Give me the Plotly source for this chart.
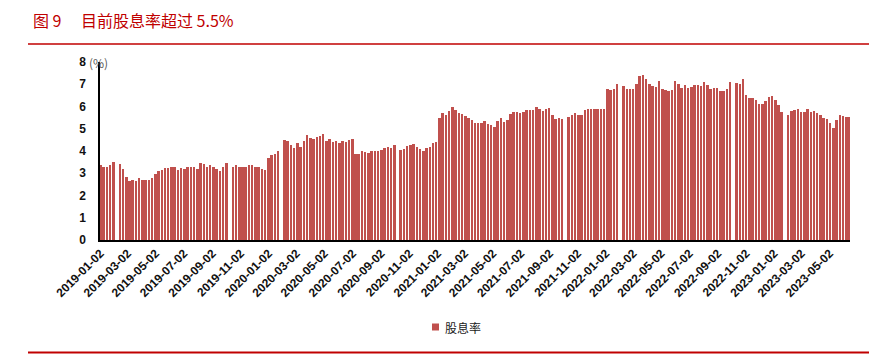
import pandas as pd
import plotly.graph_objects as go

# ---- data: weekly dividend-yield level (%) ----
# each list starts at the Monday given; None = market closed that week
start_2019 = "2018-12-31"
div_2019 = [3.38, 3.28, 3.3, 3.35, 3.5, None, 3.4, 3.2, 2.85, 2.65,
            2.68, 2.63, 2.8, 2.68, 2.7, 2.68, 2.78, 2.97, 3.1, 3.15,
            3.22, 3.22, 3.28, 3.26, 3.15, 3.25, 3.2, 3.28, 3.27, 3.3,
            3.18, 3.48, 3.4, 3.3, 3.36, 3.28, 3.18, 3.12, 3.3, 3.45,
            None, 3.3, 3.35, 3.3, 3.3, 3.3, 3.35, 3.35, 3.3, 3.3,
            3.2, 3.15]
start_2020 = "2019-12-30"
div_2020 = [3.7, 3.83, 3.87, 4.0, None, 4.5, 4.43, 4.27, 4.15, 4.38,
            4.2, 4.45, 4.7, 4.6, 4.55, 4.65, 4.68, 4.75, 4.47, 4.52,
            4.4, 4.43, 4.37, 4.45, 4.42, 4.5, 4.55, 3.87, 3.85, 4.02,
            3.95, 3.92, 3.98, 3.98, 4.0, 4.05, 4.15, 4.17, 4.15, 4.25,
            None, 4.05, 4.1, 4.23, 4.28, 4.3, 4.2, 4.08, 4.0, 4.15,
            4.2, 4.35, 4.4]
start_2021 = "2021-01-04"
div_2021 = [5.5, 5.7, 5.6, 5.82, 6.0, 5.85, 5.73, 5.65, 5.56, 5.5,
            5.38, 5.27, 5.25, 5.28, 5.33, 5.22, 5.15, 5.1, 5.35, 5.5,
            5.3, 5.4, 5.65, 5.75, 5.75, 5.7, 5.75, 5.83, 5.86, 5.86,
            5.97, 5.9, 5.78, 5.88, 5.93, 5.6, 5.43, 5.5, 5.45, None,
            5.55, 5.63, 5.72, 5.6, 5.6, 5.85, 5.9, 5.9, 5.9, 5.9,
            5.9, 5.9]
start_2022 = "2022-01-03"
div_2022 = [6.79, 6.75, 6.78, 7.0, None, 6.9, 6.8, 6.77, 6.78, 7.0,
            7.35, 7.4, 7.25, 7.0, 6.9, 6.88, 7.15, 6.8, 6.76, 6.7,
            6.75, 7.15, 7.0, 6.85, 6.95, 6.82, 6.88, 6.98, 6.95, 6.9,
            7.1, 6.95, 6.8, 6.82, 6.82, 6.68, 6.7, 6.8, 7.08, None,
            7.05, 7.03, 7.22, 6.5, 6.38, 6.38, 6.3, 6.12, 6.1, 6.23,
            6.43, 6.48]
start_2023 = "2023-01-02"
div_2023 = [6.3, 6.05, 5.75, None, 5.63, 5.78, 5.85, 5.9, 5.76, 5.75,
            5.9, 5.75, 5.8, 5.72, 5.62, 5.48, 5.42, 5.25, 5.05, 5.38,
            5.6, 5.57, 5.55, 5.55]

tick_labels = ["2019-01-02", "2019-03-02", "2019-05-02", "2019-07-02",
               "2019-09-02", "2019-11-02", "2020-01-02", "2020-03-02",
               "2020-05-02", "2020-07-02", "2020-09-02", "2020-11-02",
               "2021-01-02", "2021-03-02", "2021-05-02", "2021-07-02",
               "2021-09-02", "2021-11-02", "2022-01-02", "2022-03-02",
               "2022-05-02", "2022-07-02", "2022-09-02", "2022-11-02",
               "2023-01-02", "2023-03-02", "2023-05-02"]
y_ticks = [0, 1, 2, 3, 4, 5, 6, 7, 8]

series_name = "股息率"
title_num = "图 9"
title_text = "目前股息率超过 5.5%"

# ---- build bars ----
xs, ys = [], []
for start, vals in [(start_2019, div_2019), (start_2020, div_2020),
                    (start_2021, div_2021), (start_2022, div_2022),
                    (start_2023, div_2023)]:
    mondays = pd.date_range(start, periods=len(vals), freq="7D")
    for m, v in zip(mondays, vals):
        if v is None:
            continue
        xs.append(m + pd.Timedelta(days=2))
        ys.append(v)

BAR = "#C0504D"
RED = "#C00000"
DAY_MS = 86400000

fig = go.Figure()
fig.add_trace(go.Bar(x=xs, y=ys, marker=dict(color=BAR, line=dict(width=0)),
                     width=5.4 * DAY_MS, showlegend=False, name=series_name))

L, R, T, B = 100, 19, 62, 114
W, H = 869, 354
pw, ph = W - L - R, H - T - B

def px_x(x):
    return (x - L) / pw

def px_y(y):
    return (H - B - y) / ph

fig.update_layout(
    width=W, height=H,
    margin=dict(l=L, r=R, t=T, b=B, pad=0),
    plot_bgcolor="white", paper_bgcolor="white",
    bargap=0, showlegend=False,
    font=dict(family="Liberation Sans, Arial, sans-serif", color="#1a1a1a"),
    xaxis=dict(
        type="date",
        range=["2019-01-01 02:00", "2023-06-15 00:00"],
        tickvals=tick_labels, ticktext=tick_labels,
        tickangle=-45, showgrid=False, zeroline=False,
        showline=True, linecolor="#000000", linewidth=1.5,
        ticks="", tickfont=dict(size=12, weight="bold", color="#111111"),
    ),
    yaxis=dict(
        range=[0, 8], tickvals=y_ticks, showgrid=False, zeroline=False,
        showline=True, linecolor="#000000", linewidth=1.5, ticks="",
        ticklabelstandoff=10,
        tickfont=dict(size=12, weight="bold", color="#111111"),
    ),
    shapes=[
        dict(type="line", xref="paper", yref="paper", x0=px_x(28), x1=px_x(869),
             y0=px_y(44), y1=px_y(44), line=dict(color=RED, width=1.6)),
        dict(type="line", xref="paper", yref="paper", x0=px_x(28), x1=px_x(869),
             y0=px_y(352.5), y1=px_y(352.5), line=dict(color=RED, width=2)),
        # legend swatch
        dict(type="rect", xref="paper", yref="paper",
             x0=px_x(432), x1=px_x(439), y0=px_y(330.5), y1=px_y(323.5),
             fillcolor=BAR, line=dict(width=0)),
    ],
    annotations=[
        dict(text=title_num, xref="paper", yref="paper", x=px_x(31), y=px_y(20),
             xanchor="left", yanchor="middle", showarrow=False,
             font=dict(family="Noto Sans CJK SC", size=16, color=RED)),
        dict(text=title_text, xref="paper", yref="paper", x=px_x(79), y=px_y(20),
             xanchor="left", yanchor="middle", showarrow=False,
             font=dict(family="Noto Sans CJK SC", size=16, color=RED)),
        dict(text="(%)", xref="paper", yref="paper", x=px_x(87), y=1,
             xanchor="left", yanchor="middle", showarrow=False,
             font=dict(family="Noto Sans CJK SC", size=12, color="#595959")),
        dict(text=series_name, xref="paper", yref="paper", x=px_x(443), y=px_y(327),
             xanchor="left", yanchor="middle", showarrow=False,
             font=dict(family="Noto Sans CJK SC", size=12, color="#1a1a1a")),
    ],
)

fig.write_html("out.html")
